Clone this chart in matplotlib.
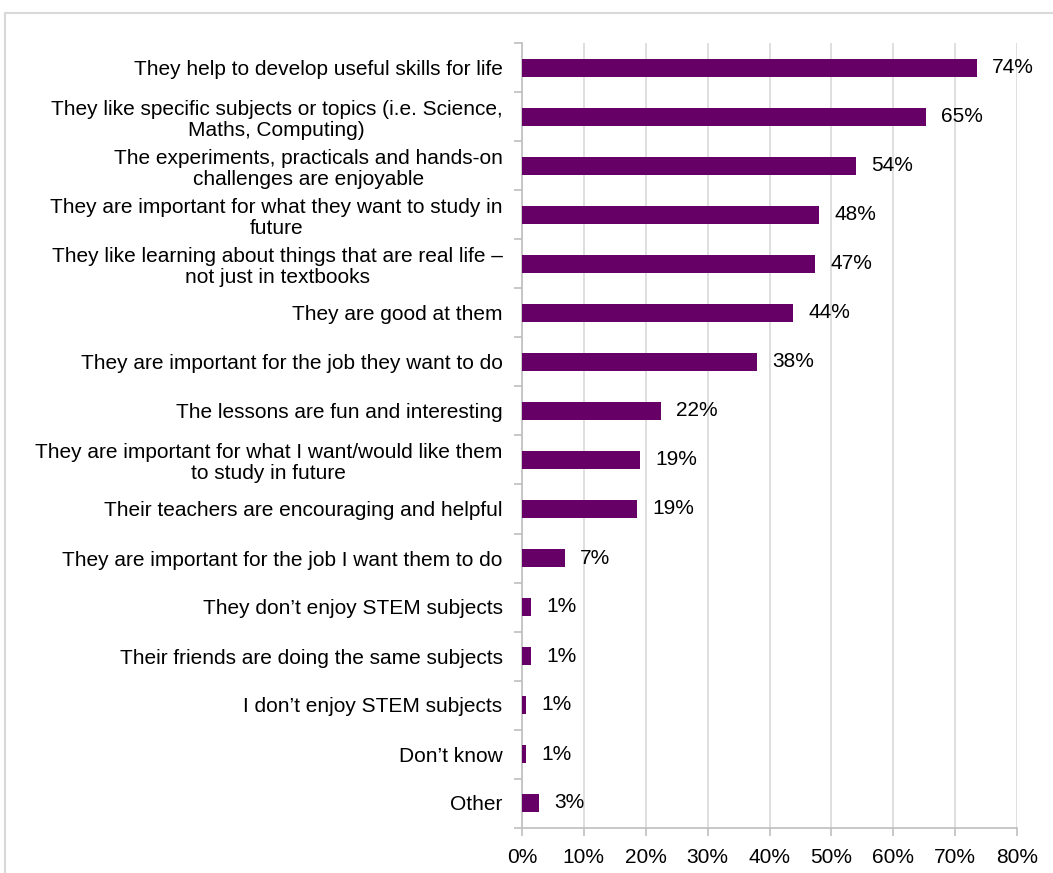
import matplotlib
matplotlib.use("Agg")
import matplotlib.pyplot as plt
from matplotlib.patches import Rectangle
from matplotlib.ticker import FixedLocator

plt.rcParams['font.family'] = ['Liberation Sans', 'DejaVu Sans']

categories = [
    "They help to develop useful skills for life",
    "They like specific subjects or topics (i.e. Science,\nMaths, Computing)",
    "The experiments, practicals and hands-on\nchallenges are enjoyable",
    "They are important for what they want to study in\nfuture",
    "They like learning about things that are real life \u2013\nnot just in textbooks",
    "They are good at them",
    "They are important for the job they want to do",
    "The lessons are fun and interesting",
    "They are important for what I want/would like them\nto study in future",
    "Their teachers are encouraging and helpful",
    "They are important for the job I want them to do",
    "They don\u2019t enjoy STEM subjects",
    "Their friends are doing the same subjects",
    "I don\u2019t enjoy STEM subjects",
    "Don\u2019t know",
    "Other",
]
values = [73.5, 65.3, 54.0, 48.0, 47.4, 43.8, 38.0, 22.5, 19.1, 18.6, 6.9, 1.45, 1.45, 0.65, 0.65, 2.7]
value_labels = ["74%", "65%", "54%", "48%", "47%", "44%", "38%", "22%", "19%", "19%", "7%",
                "1%", "1%", "1%", "1%", "3%"]
x_ticks = [0, 10, 20, 30, 40, 50, 60, 70, 80]
x_tick_labels = ["0%", "10%", "20%", "30%", "40%", "50%", "60%", "70%", "80%"]

W, H = 1053, 873
FS = 15
fig = plt.figure(figsize=(W / 100, H / 100), dpi=100)
fig.patches.append(Rectangle((5 / W, -0.1), 1.2, 1 - 13 / H + 0.1, transform=fig.transFigure,
                             fill=False, edgecolor='#d9d9d9', linewidth=1.5))

ax = fig.add_axes([522 / W, 1 - 827.5 / H, (1017 - 522) / W, (827.5 - 43.5) / H])
n = len(categories)
ypos = list(range(n))
purple = '#660066'
ax.barh(ypos, values, height=0.35, color=purple, zorder=3)
ax.set_ylim(n - 0.5, -0.5)
ax.set_xlim(0, 80)

ax.set_yticks(ypos)
ax.set_yticklabels(categories, fontsize=FS, multialignment='center', color='#000000',
                   linespacing=1.15)
ax.tick_params(axis='y', which='major', length=0, pad=14)
ax.yaxis.set_minor_locator(FixedLocator([i - 0.5 for i in range(n + 1)]))
ax.tick_params(axis='y', which='minor', length=6, color='#bfbfbf', width=1.2)

ax.set_xticks(x_ticks)
ax.set_xticklabels(x_tick_labels, fontsize=FS)
ax.tick_params(axis='x', length=6, color='#bfbfbf', width=1.2, pad=9)

ax.grid(axis='x', color='#d9d9d9', linewidth=1.2, zorder=0)
for s in ['top', 'right']:
    ax.spines[s].set_visible(False)
for s in ['left', 'bottom']:
    ax.spines[s].set_color('#bfbfbf')
    ax.spines[s].set_linewidth(1.2)

for y, v, lab in zip(ypos, values, value_labels):
    ax.annotate(lab, (v, y), xytext=(11, 0), textcoords='offset points',
                va='center', ha='left', fontsize=FS, zorder=4)

fig.savefig('out.png', dpi=100)
